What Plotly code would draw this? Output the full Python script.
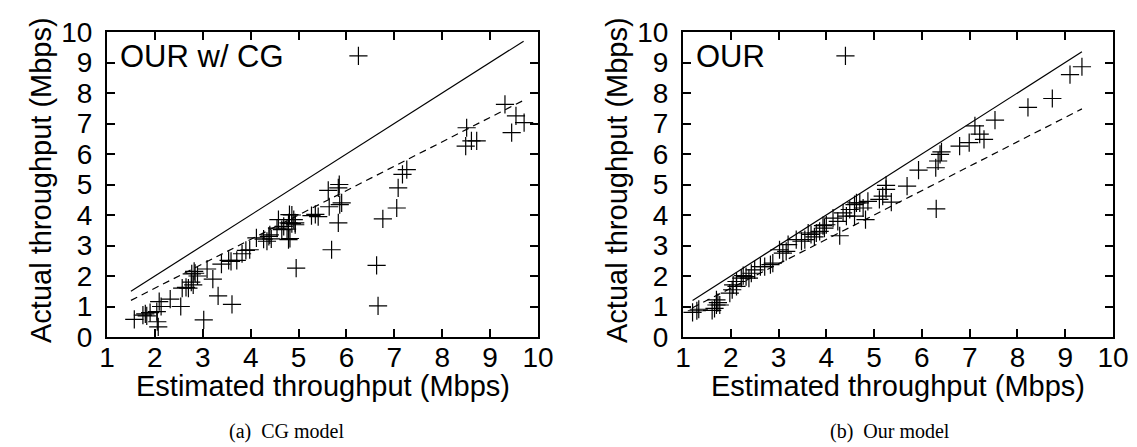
import plotly.graph_objects as go

# ---------------- data ----------------
cg_est = [1.57, 1.75, 1.80, 1.83, 1.90, 2.04, 2.09, 2.13, 2.05, 2.07, 2.32, 2.54, 2.57, 2.65,
          2.70, 2.80, 2.76, 2.77, 2.84, 2.89, 2.82, 3.02, 3.09, 3.21, 3.32, 3.61, 3.39, 3.54,
          3.59, 3.71, 3.82, 3.90, 3.98, 4.12, 4.27, 4.34, 4.38, 4.43, 4.40, 4.55, 4.58, 4.65,
          4.69, 4.76, 4.79, 4.79, 4.81, 4.86, 4.90, 4.93, 4.95, 4.86, 4.93, 4.82, 5.27, 5.35,
          5.41, 5.62, 5.64, 5.83, 5.85, 5.86, 5.90, 5.83, 5.69, 6.25, 6.63, 6.66, 6.76, 7.05,
          7.08, 7.17, 7.26, 8.49, 8.51, 8.61, 8.72, 9.31, 9.45, 9.54, 9.71]
cg_act = [0.58, 0.72, 0.76, 0.69, 0.80, 0.83, 1.16, 1.00, 0.50, 0.33, 1.24, 1.00, 1.60, 1.63,
          1.60, 1.71, 1.80, 2.07, 2.09, 2.00, 2.15, 0.56, 2.23, 1.90, 1.35, 1.07, 2.39, 2.51,
          2.48, 2.51, 2.73, 2.84, 2.86, 3.25, 3.21, 3.14, 3.30, 3.22, 3.35, 3.57, 3.85, 3.52,
          3.63, 3.54, 3.19, 3.74, 4.01, 3.72, 3.85, 3.74, 2.26, 4.00, 3.68, 3.23, 3.98, 4.02,
          3.95, 4.81, 4.27, 4.89, 5.00, 4.34, 4.40, 3.74, 2.86, 9.22, 2.35, 1.02, 3.87, 4.23,
          4.89, 5.33, 5.49, 6.26, 6.86, 6.43, 6.43, 7.63, 6.70, 7.25, 7.03]

our_est = [1.20, 1.29, 1.33, 1.61, 1.66, 1.70, 1.73, 1.70, 1.77, 1.98, 2.03, 2.05, 2.12, 2.12,
           2.22, 2.26, 2.32, 2.38, 2.43, 2.50, 2.62, 2.71, 2.83, 2.88, 3.02, 3.09, 3.16, 3.20,
           3.37, 3.48, 3.55, 3.62, 3.68, 3.75, 3.79, 3.86, 3.93, 3.96, 4.00, 4.14, 4.24, 4.28,
           4.35, 4.42, 4.49, 4.59, 4.59, 4.63, 4.70, 4.77, 4.82, 4.87, 5.11, 5.18, 5.25, 5.25,
           5.36, 5.69, 5.93, 6.29, 6.34, 6.38, 6.41, 6.30, 6.79, 6.99, 7.11, 7.21, 7.30, 7.53,
           8.22, 8.73, 9.10, 9.35, 4.40]
our_act = [0.81, 0.86, 0.91, 0.87, 0.94, 1.05, 1.13, 1.22, 1.05, 1.44, 1.55, 1.71, 1.66, 1.82,
           1.93, 2.01, 1.98, 1.93, 2.09, 2.20, 2.31, 2.31, 2.37, 2.42, 2.86, 2.75, 2.81, 3.03,
           3.19, 3.14, 3.19, 3.41, 3.36, 3.28, 3.41, 3.46, 3.65, 3.57, 3.68, 3.90, 3.79, 3.32,
           4.07, 3.96, 4.18, 3.96, 4.34, 4.40, 4.40, 4.23, 3.85, 4.45, 4.51, 4.62, 4.84, 4.97,
           4.42, 4.95, 5.47, 5.55, 5.77, 5.99, 6.07, 4.20, 6.26, 6.37, 6.92, 6.65, 6.48, 7.11,
           7.53, 7.82, 8.60, 8.86, 9.22]

# reference lines: y = x (solid) and y = 0.8x (dashed)
cg_line_x = [1.5, 9.7]
cg_solid_y = [1.5, 9.7]
cg_dash_y = [1.2, 7.76]
our_line_x = [1.2, 9.35]
our_solid_y = [1.2, 9.35]
our_dash_y = [0.96, 7.48]

x_ticks = [1, 2, 3, 4, 5, 6, 7, 8, 9, 10]
y_ticks = [0, 1, 2, 3, 4, 5, 6, 7, 8, 9, 10]

panel_labels = ["OUR w/ CG", "OUR"]
captions = ["(a)  CG model", "(b)  Our model"]
x_title = "Estimated throughput (Mbps)"
y_title = "Actual throughput (Mbps)"

# ---------------- figure ----------------
W, H = 1137, 447
SANS = "Liberation Sans, Arial, Helvetica, sans-serif"
SERIF = "Liberation Serif, Times New Roman, serif"

fig = go.Figure()

marker = dict(symbol="cross-thin-open", size=13, color="black",
              line=dict(color="black", width=1.2))

for (ex, ac, lx, sy, dy, xa, ya) in [
    (cg_est, cg_act, cg_line_x, cg_solid_y, cg_dash_y, "x", "y"),
    (our_est, our_act, our_line_x, our_solid_y, our_dash_y, "x2", "y2"),
]:
    fig.add_trace(go.Scatter(x=lx, y=sy, mode="lines", xaxis=xa, yaxis=ya,
                             line=dict(color="black", width=1.2), showlegend=False,
                             hoverinfo="skip"))
    fig.add_trace(go.Scatter(x=lx, y=dy, mode="lines", xaxis=xa, yaxis=ya,
                             line=dict(color="black", width=1.2, dash="7px,5px"),
                             showlegend=False, hoverinfo="skip"))
    fig.add_trace(go.Scatter(x=ex, y=ac, mode="markers", xaxis=xa, yaxis=ya,
                             marker=marker, showlegend=False))

x_dom1 = [107 / W, 538 / W]
x_dom2 = [683 / W, 1113 / W]
y_dom = [(H - 337) / H, (H - 32) / H]

axis_common = dict(
    showgrid=False, zeroline=False, showline=True, linecolor="black", linewidth=2,
    mirror="ticks", ticks="inside", ticklen=8, tickwidth=1.5, tickcolor="black",
    automargin=False,
    tickfont=dict(family=SANS, size=28, color="black"),
)

fig.update_layout(
    template="none",
    width=W, height=H,
    margin=dict(l=0, r=0, t=0, b=0, autoexpand=False),
    paper_bgcolor="white", plot_bgcolor="white",
    xaxis=dict(domain=x_dom1, range=[1, 10], tickvals=x_ticks, anchor="y",
               ticklabelstandoff=-6, **axis_common),
    yaxis=dict(domain=y_dom, range=[0, 10], tickvals=y_ticks, anchor="x",
               ticklabelstandoff=7, **axis_common),
    xaxis2=dict(domain=x_dom2, range=[1, 10], tickvals=x_ticks, anchor="y2",
                ticklabelstandoff=-6, **axis_common),
    yaxis2=dict(domain=y_dom, range=[0, 10], tickvals=y_ticks, anchor="x2",
                ticklabelstandoff=7, **axis_common),
)

anns = []
for i, (xd, lab, cap) in enumerate(zip([x_dom1, x_dom2], panel_labels, captions)):
    xc = (xd[0] + xd[1]) / 2
    # x-axis title
    anns.append(dict(text=x_title, xref="paper", yref="paper", x=xc, y=(H - 386) / H,
                     xanchor="center", yanchor="middle", showarrow=False,
                     font=dict(family=SANS, size=29, color="black")))
    # y-axis title
    anns.append(dict(text=y_title, xref="paper", yref="paper",
                     x=(xd[0] * W - 66) / W, y=(H - 180) / H, textangle=-90,
                     xanchor="center", yanchor="middle", showarrow=False,
                     font=dict(family=SANS, size=29, color="black")))
    # in-panel label
    anns.append(dict(text=lab, xref="paper", yref="paper",
                     x=(xd[0] * W + 11) / W, y=(H - 56) / H,
                     xanchor="left", yanchor="middle", showarrow=False,
                     font=dict(family=SANS, size=31, color="black")))
    # caption
    cx = [286, 890][i]
    anns.append(dict(text=cap, xref="paper", yref="paper", x=cx / W, y=(H - 431) / H,
                     xanchor="center", yanchor="middle", showarrow=False,
                     font=dict(family=SERIF, size=20, color="black")))

fig.update_layout(annotations=anns)

fig.write_html("out.html")
